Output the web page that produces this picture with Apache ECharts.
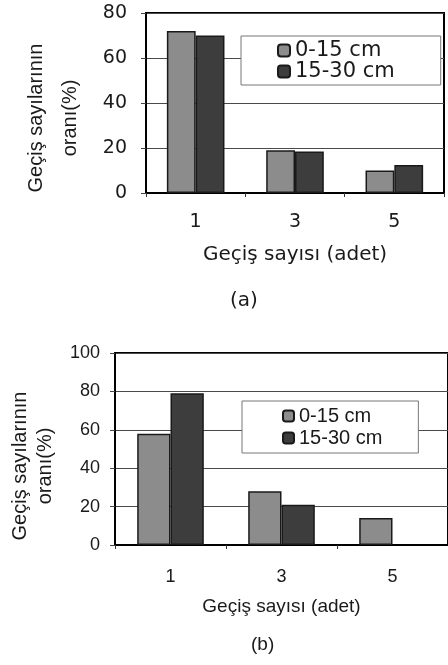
<!DOCTYPE html>
<html>
<head>
<meta charset="utf-8">
<script src="https://cdn.jsdelivr.net/npm/echarts@6/dist/echarts.min.js"></script>
<style>
html,body{margin:0;padding:0;background:#fff;}
#c{width:448px;height:665px;}
</style>
</head>
<body>
<div id="c"></div>
<script>
// ---- data ----
const categories = ['1', '3', '5'];
const seriesNames = ['0-15 cm', '15-30 cm'];
const a_0_15 = [72, 19, 10];
const a_15_30 = [70, 18.5, 12.5];
const b_0_15 = [58, 28, 14];
const b_15_30 = [79, 21, null];
const yTitle = 'Geçiş sayılarının\noranı(%)';
const xTitle = 'Geçiş sayısı (adet)';
const panelLabels = ['(a)', '(b)'];

const FA = 'DejaVu Sans';
const FB = 'Liberation Sans, Arial, sans-serif';
const C1 = '#8c8c8c';
const C2 = '#3d3d3d';

const chart = echarts.init(document.getElementById('c'), null, {renderer: 'canvas'});

function xAxisCfg(gi, font, fs, margin, nfs) {
  return {
    type: 'category', gridIndex: gi, data: categories,
    boundaryGap: true,
    axisLine: {show: true, lineStyle: {color: '#000', width: 2}},
    axisTick: {show: true, length: 4, lineStyle: {color: '#333'}},
    axisLabel: {color: '#1a1a1a', fontFamily: font, fontSize: fs, margin: margin},
    name: xTitle, nameLocation: 'middle', nameGap: 52,
    nameTextStyle: {color: '#1a1a1a', fontFamily: font, fontSize: nfs},
    splitLine: {show: false}
  };
}
function yAxisCfg(gi, max, font, fs, margin, nameGap, lh, pad) {
  return {
    type: 'value', gridIndex: gi, min: 0, max: max, interval: 20,
    axisLine: {show: true, lineStyle: {color: '#000', width: 2}},
    axisTick: {show: true, length: 5, lineStyle: {color: '#444'}},
    axisLabel: {color: '#1a1a1a', fontFamily: font, fontSize: fs, margin: margin},
    splitLine: {show: true, lineStyle: {color: '#4a4a4a', width: 1}},
    name: yTitle, nameLocation: 'middle', nameGap: nameGap, nameRotate: 90,
    nameTextStyle: {color: '#1a1a1a', fontFamily: FB, fontSize: 20, lineHeight: lh, padding: pad}
  };
}
function barSeries(name, data, xi, color, gapCat) {
  return {
    type: 'bar', name: name, data: data, xAxisIndex: xi, yAxisIndex: xi,
    barGap: '0%', barCategoryGap: gapCat,
    itemStyle: {color: color, borderColor: '#1a1a1a', borderWidth: 1.5},
    emphasis: {disabled: true}
  };
}

chart.setOption({
  animation: false,
  backgroundColor: '#fff',
  grid: [
    {left: 146, top: 13, right: 4, bottom: 472, show: true, borderColor: '#000', borderWidth: 2, backgroundColor: '#fff'},
    {left: 115, top: 353, right: -9, bottom: 120, show: true, borderColor: '#000', borderWidth: 2, backgroundColor: '#fff'}
  ],
  xAxis: [xAxisCfg(0, FA, 19, 20, 20), xAxisCfg(1, FB, 18, 23, 19)],
  yAxis: [
    yAxisCfg(0, 80, FA, 19, 19, 59, 34, [0, 30, 0, 0]),
    yAxisCfg(1, 100, FB, 18, 15, 57, 25, [0, 34, 0, 0])
  ],
  legend: [
    {
      data: seriesNames, orient: 'vertical', left: 241, top: 36,
      padding: [4, 46, 3, 36], itemGap: 0, itemWidth: 12, itemHeight: 12,
      borderColor: '#777', borderWidth: 1, backgroundColor: '#fff',
      textStyle: {fontFamily: FA, fontSize: 21, color: '#1a1a1a'},
      selectedMode: false
    },
    {
      data: seriesNames, orient: 'vertical', left: 242, top: 401,
      padding: [5, 36, 5, 40], itemGap: 2, itemWidth: 11, itemHeight: 11,
      borderColor: '#777', borderWidth: 1, backgroundColor: '#fff',
      textStyle: {fontFamily: FB, fontSize: 20, color: '#1a1a1a'},
      selectedMode: false
    }
  ],
  title: [
    {text: panelLabels[0], left: 230, top: 291, padding: 0,
     textStyle: {fontFamily: FA, fontSize: 20, fontWeight: 'normal', color: '#1a1a1a'}},
    {text: panelLabels[1], left: 251, top: 635, padding: 0,
     textStyle: {fontFamily: FB, fontSize: 19, fontWeight: 'normal', color: '#1a1a1a'}}
  ],
  series: [
    barSeries(seriesNames[0], a_0_15, 0, C1, '42%'),
    barSeries(seriesNames[1], a_15_30, 0, C2, '42%'),
    barSeries(seriesNames[0], b_0_15, 1, C1, '40%'),
    barSeries(seriesNames[1], b_15_30, 1, C2, '40%')
  ]
});
</script>
</body>
</html>
